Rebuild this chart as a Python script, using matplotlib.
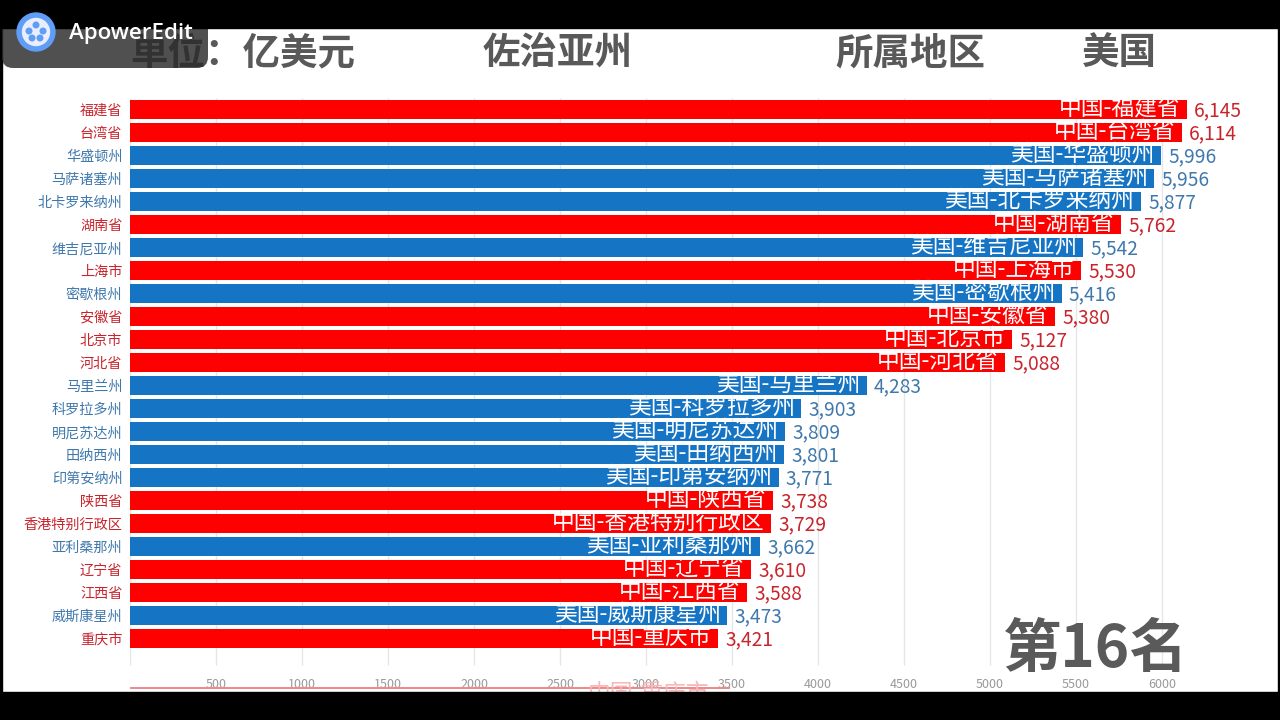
import matplotlib
matplotlib.use("Agg")
import matplotlib.pyplot as plt
from matplotlib.patches import Rectangle, FancyBboxPatch, Circle

plt.rcParams['font.family'] = ['Noto Sans CJK SC', 'DejaVu Sans']

regions = ['福建省','台湾省','华盛顿州','马萨诸塞州','北卡罗来纳州','湖南省','维吉尼亚州','上海市','密歇根州','安徽省',
           '北京市','河北省','马里兰州','科罗拉多州','明尼苏达州','田纳西州','印第安纳州','陕西省','香港特别行政区','亚利桑那州',
           '辽宁省','江西省','威斯康星州','重庆市']
countries = ['中国','中国','美国','美国','美国','中国','美国','中国','美国','中国',
             '中国','中国','美国','美国','美国','美国','美国','中国','中国','美国',
             '中国','中国','美国','中国']
values = [6145,6114,5996,5956,5877,5762,5542,5530,5416,5380,
          5127,5088,4283,3903,3809,3801,3771,3738,3729,3662,
          3610,3588,3473,3421]
ticks = [500,1000,1500,2000,2500,3000,3500,4000,4500,5000,5500,6000]
colors = {'中国':'#fe0000','美国':'#1574c4'}
text_colors = {'中国':'#c8242c','美国':'#3f78ac'}

W, H = 1280, 720
fig = plt.figure(figsize=(12.8,7.2), dpi=100, facecolor='white')
ax = fig.add_axes([130/W, (H-692)/H, (1278-130)/W, (692-28)/H])
ax.set_xlim(0, (1278-130)/0.172)
ax.set_ylim((692-109.5)/23.0, (28-109.5)/23.0)
for s in ax.spines.values():
    s.set_visible(False)
ax.tick_params(length=0)
ax.patch.set_alpha(0)

grid_bottom = (665-109.5)/23.0
grid_top = (98-109.5)/23.0
ax.vlines(ticks, grid_top, grid_bottom, color='#e6e6e6', lw=1, zorder=0)
ax.vlines([0], grid_top, grid_bottom, color='#e6e6e6', lw=1, zorder=0)

ys = list(range(len(values)))
ax.barh(ys, values, height=0.84, color=[colors[c] for c in countries], zorder=2)

ax.set_yticks(ys)
ax.set_yticklabels(regions, fontsize=10.2, fontweight='medium')
for lab, c in zip(ax.get_yticklabels(), countries):
    lab.set_color(text_colors[c])
ax.tick_params(axis='y', pad=5.5)
ax.set_xticks([])

for y, v, r, c in zip(ys, values, regions, countries):
    ax.text(v-38, y-0.05, f'{c}-{r}', ha='right', va='center', color='white', fontsize=16.4,
            fontweight='medium', zorder=3)
    ax.text(v+42, y+0.04, f'{v:,}', ha='left', va='center', color=text_colors[c], fontsize=13.8, zorder=3)

for t in ticks:
    ax.text(t, (684-109.5)/23.0, str(t), ha='center', va='center', color='#999999', fontsize=9, zorder=1)

# stray fragments of the next bar below the axis
ax.barh([(688-109.5)/23.0], [3490], height=0.07, color='#ee8a8a', zorder=1)
ax.text(3370, (694-109.5)/23.0, '中国-重庆市', ha='right', va='center', color='#f6b8b8', fontsize=16.4, zorder=1, clip_on=True)

# titles
title_y = 1-53/H
fig.text(130/W, title_y, '单位：亿美元', color='#595959', fontsize=27, fontweight='bold', ha='left', va='center')
fig.text(483/W, title_y, '佐治亚州', color='#595959', fontsize=27, fontweight='bold', ha='left', va='center')
fig.text(835/W, title_y, '所属地区', color='#595959', fontsize=27, fontweight='bold', ha='left', va='center')
fig.text(1082/W, title_y, '美国', color='#595959', fontsize=27, fontweight='bold', ha='left', va='center')
fig.text(1096/W, 1-650/H, '第16名', color='#5a5a5a', fontsize=42, fontweight='bold', ha='center', va='center')

# video letterbox
axp = fig.add_axes([0,0,1,1], zorder=20)
axp.set_xlim(0,W); axp.set_ylim(H,0); axp.axis('off')
axp.add_patch(Rectangle((0,692),W,28,color='black'))
axp.add_patch(Rectangle((0,0),2,H,color='black'))
axp.add_patch(Rectangle((1278,0),2,H,color='black'))

# watermark badge
axp.add_patch(FancyBboxPatch((2,8),206,60, boxstyle='round,pad=0,rounding_size=11', fc='#2a2a2a', ec='none', alpha=0.82))
axp.add_patch(Rectangle((0,0),W,28,color='black'))
axp.add_patch(Circle((36,32),19,color='#5f9df7'))
axp.add_patch(Circle((36,32),13.5,color='#e8eefc'))
for dx,dy in [(0,-7),(-7,-1),(7,-1),(-4,6),(4,6)]:
    axp.add_patch(Circle((36+dx,32+dy),2.8,color='#5f9df7'))
axp.text(69,33,'ApowerEdit',color='white',fontsize=16,fontweight='semibold',family='Open Sans',va='center',ha='left')

fig.savefig('out.png', dpi=100)
